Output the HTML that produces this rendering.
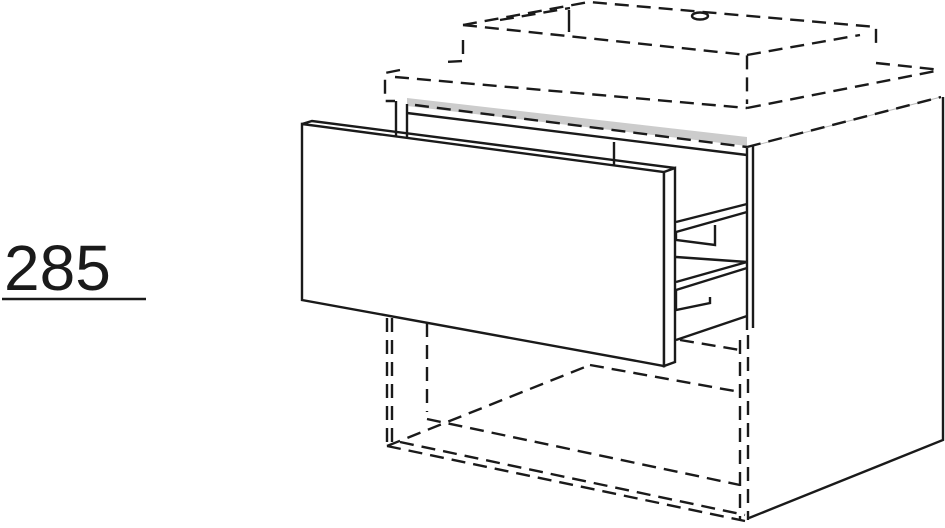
<!DOCTYPE html>
<html><head><style>
html,body{margin:0;padding:0;background:#fff;}
svg{display:block;}
</style></head><body>
<svg width="945" height="528" viewBox="0 0 945 528" xmlns="http://www.w3.org/2000/svg">
<g fill="none" stroke="#1a1a1a" stroke-width="2.4" stroke-linejoin="miter">
<polygon points="407,98 747,137 747,146 407,106" fill="#ccc" stroke="none"/>
<polyline points="747,148 747,330"/>
<polyline points="753,146 753,328"/>
<line x1="753" y1="146" x2="941" y2="97" stroke="#bbb" stroke-width="1"/>
<polyline points="943,97 943,440 749,518"/>
<line x1="396" y1="101" x2="396" y2="140"/>
<line x1="407" y1="104" x2="407" y2="140"/>
<line x1="407" y1="113" x2="747" y2="155"/>
<line x1="614" y1="142" x2="614" y2="165"/>
<polyline points="676,222 747,204"/>
<polyline points="676,232 747,212"/>
<polyline points="676,232 676,240 715,245 715,225"/>
<polyline points="676,257 747,262"/>
<polyline points="676,282 747,262"/>
<polyline points="676,290 747,268"/>
<polyline points="676,290 676,310 710,303 710,297"/>
<polyline points="676,340 747,316"/>
<polygon points="302,124 664,172 664,366 302,300" fill="#fff"/>
<polygon points="664,172 675,168 675,362 664,366" fill="#fff"/>
<polyline points="302,124 312,121 675,168"/>
</g>
<g fill="none" stroke="#1a1a1a" stroke-width="2.4" stroke-dasharray="14,8">
<polyline points="400,70 385,73 385,101 395,101"/>
<line x1="395" y1="77" x2="747" y2="108"/>
<line x1="415" y1="105" x2="747" y2="147"/>
<polyline points="747,147 941,97"/>
<polyline points="747,108 941,70"/>
<polyline points="876,63 941,70"/>
<polyline points="463,40 463,61 445,62"/>
<polyline points="463,25 747,55 747,104"/>
<polyline points="463,25 589,2 876,27 876,45"/>
<line x1="747" y1="55" x2="860" y2="35"/>
<line x1="500" y1="20" x2="570" y2="8"/>
<ellipse cx="700" cy="16" rx="8" ry="3.5" stroke-dasharray="none"/>
<line x1="569" y1="10" x2="569" y2="32" stroke-dasharray="none"/>
<line x1="387" y1="318" x2="387" y2="446"/>
<line x1="392" y1="318" x2="392" y2="446"/>
<line x1="427" y1="323" x2="427" y2="412"/>
<line x1="387" y1="446" x2="745" y2="521"/>
<line x1="400" y1="442" x2="745" y2="515"/>
<line x1="387" y1="446" x2="590" y2="365"/>
<line x1="590" y1="365" x2="740" y2="392"/>
<line x1="427" y1="419" x2="740" y2="485"/>
<line x1="740" y1="340" x2="740" y2="520"/>
<line x1="748" y1="335" x2="748" y2="520"/>
<line x1="680" y1="340" x2="740" y2="350"/>
</g>
<text x="4" y="290" font-family="Liberation Sans, sans-serif" font-size="64" fill="#1a1a1a">285</text>
<line x1="2" y1="299" x2="146" y2="299" stroke="#1a1a1a" stroke-width="2.4"/>
</svg>
</body></html>
